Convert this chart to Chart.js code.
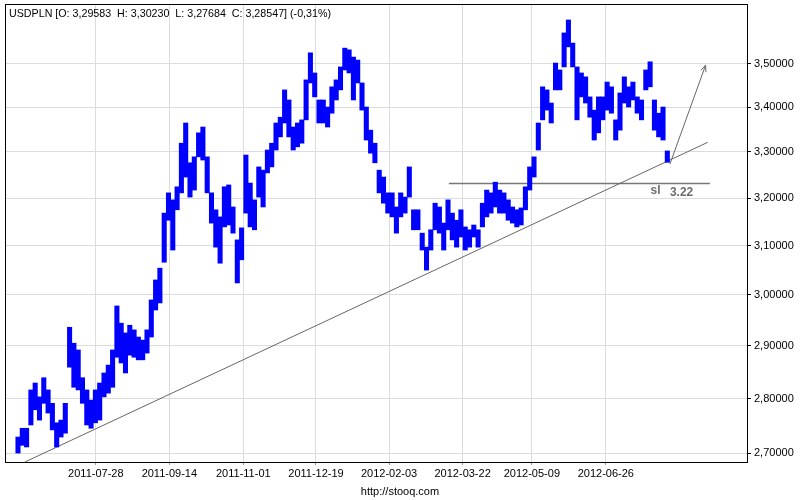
<!DOCTYPE html>
<html>
<head>
<meta charset="utf-8">
<script src="https://cdn.jsdelivr.net/npm/chart.js@4.4.1/dist/chart.umd.min.js"></script>
<style>
  html, body { margin: 0; padding: 0; background: #fff; }
  canvas { display: block; }
</style>
</head>
<body>
<canvas id="chart" width="800" height="500"></canvas>
<script>
// USDPLN, one bar = two sessions
const barHigh = [
  2.729, 2.745, 2.745, 2.816, 2.829, 2.803, 2.839, 2.816, 2.791, 2.755,
  2.760, 2.791, 2.936, 2.905, 2.892, 2.839, 2.816, 2.797, 2.816, 2.829,
  2.848, 2.863, 2.892, 2.978, 2.944, 2.925, 2.940, 2.931, 2.917, 2.911,
  2.931, 2.990, 3.030, 3.054, 3.168, 3.211, 3.196, 3.224, 3.319, 3.364,
  3.276, 3.289, 3.342, 3.355, 3.289, 3.211, 3.175, 3.160, 3.224, 3.228,
  3.181, 3.112, 3.137, 3.293, 3.232, 3.196, 3.267, 3.260, 3.304, 3.319,
  3.364, 3.377, 3.439, 3.416, 3.355, 3.364, 3.371, 3.462, 3.525, 3.478,
  3.416, 3.416, 3.400, 3.446, 3.462, 3.492, 3.536, 3.532, 3.515, 3.508,
  3.455, 3.400, 3.348, 3.319, 3.260, 3.245, 3.211, 3.211, 3.181, 3.211,
  3.202, 3.267, 3.175, 3.175, 3.126, 3.097, 3.133, 3.189, 3.181, 3.147,
  3.196, 3.168, 3.153, 3.175, 3.139, 3.133, 3.143, 3.133, 3.189, 3.217,
  3.211, 3.234, 3.217, 3.211, 3.196, 3.181, 3.175, 3.179, 3.224, 3.267,
  3.289, 3.364, 3.446, 3.439, 3.409, 3.501, 3.485, 3.572, 3.603, 3.548,
  3.492, 3.478, 3.469, 3.423, 3.393, 3.423, 3.423, 3.457, 3.446, 3.371,
  3.432, 3.469, 3.446, 3.457, 3.423, 3.416, 3.485, 3.504, 3.416, 3.386,
  3.400, 3.302
];
const barLow = [
  2.700, 2.714, 2.711, 2.751, 2.779, 2.760, 2.791, 2.773, 2.742, 2.711,
  2.729, 2.736, 2.859, 2.821, 2.816, 2.791, 2.751, 2.745, 2.755, 2.760,
  2.803, 2.810, 2.821, 2.878, 2.867, 2.848, 2.882, 2.878, 2.873, 2.873,
  2.886, 2.917, 2.970, 2.984, 3.066, 3.153, 3.091, 3.175, 3.211, 3.245,
  3.202, 3.217, 3.289, 3.282, 3.211, 3.147, 3.097, 3.064, 3.139, 3.143,
  3.126, 3.024, 3.071, 3.168, 3.139, 3.133, 3.202, 3.181, 3.254, 3.267,
  3.304, 3.333, 3.364, 3.333, 3.304, 3.311, 3.319, 3.371, 3.455, 3.423,
  3.364, 3.364, 3.355, 3.386, 3.416, 3.439, 3.485, 3.478, 3.416, 3.455,
  3.393, 3.326, 3.297, 3.276, 3.211, 3.189, 3.168, 3.160, 3.126, 3.160,
  3.168, 3.202, 3.133, 3.133, 3.091, 3.050, 3.091, 3.133, 3.126, 3.091,
  3.133, 3.112, 3.097, 3.118, 3.091, 3.097, 3.118, 3.097, 3.139, 3.160,
  3.168, 3.181, 3.168, 3.168, 3.153, 3.147, 3.139, 3.143, 3.175, 3.217,
  3.245, 3.304, 3.371, 3.393, 3.364, 3.439, 3.439, 3.492, 3.539, 3.492,
  3.371, 3.423, 3.409, 3.377, 3.326, 3.342, 3.371, 3.393, 3.386, 3.326,
  3.348, 3.409, 3.400, 3.416, 3.386, 3.371, 3.439, 3.446, 3.348, 3.333,
  3.326, 3.277
];

const xTickBars = [18.1, 35.2, 52.4, 69.3, 86.3, 103.4, 119.5, 136.7];
const xTickLabels = ["2011-07-28", "2011-09-14", "2011-11-01", "2011-12-19",
                     "2012-02-03", "2012-03-22", "2012-05-09", "2012-06-26"];
const yTicks = [2.7, 2.8, 2.9, 3.0, 3.1, 3.2, 3.3, 3.4, 3.5];

// drawn lines (bar position, price)
const trendX = [1.6, 160.4];
const trendY = [2.684, 3.321];
const slX = [100.2, 160.9];
const slY = [3.231, 3.231];
const arrowX = [151.6, 159.9];
const arrowY = [3.273, 3.496];

const header = "USDPLN [O: 3,29583  H: 3,30230  L: 3,27684  C: 3,28547] (-0,31%)";
const footer = "http://stooq.com";
const slText = "sl";
const slValueText = "3.22";

const font = "Liberation Sans";
const pairs = (xs, ys) => xs.map((v, i) => ({ x: v, y: ys[i] }));

const overlay = {
    id: "overlay",
    afterDatasetsDraw(chart) {
        const { ctx, scales: { x, y } } = chart;
        ctx.save();
        // arrow head
        const pts = chart.getDatasetMeta(3).data;
        const p0 = pts[0], p1 = pts[1];
        const ang = Math.atan2(p1.y - p0.y, p1.x - p0.x);
        ctx.strokeStyle = "#666";
        ctx.lineWidth = 1;
        ctx.beginPath();
        [-0.4, 0.4].forEach(d => {
            ctx.moveTo(p1.x, p1.y);
            ctx.lineTo(p1.x - 7 * Math.cos(ang + d), p1.y - 7 * Math.sin(ang + d));
        });
        ctx.stroke();
        // sl label
        ctx.fillStyle = "#6e6e6e";
        ctx.font = "bold 12px '" + font + "'";
        ctx.textBaseline = "middle";
        ctx.textAlign = "left";
        const ly = y.getPixelForValue(slY[0]);
        ctx.fillText(slText, x.getPixelForValue(147.1), ly + 7);
        ctx.fillText(slValueText, x.getPixelForValue(151.6), ly + 9);
        ctx.restore();
    },
    afterDraw(chart) {
        const { ctx, chartArea: a } = chart;
        ctx.save();
        ctx.strokeStyle = "#000";
        ctx.lineWidth = 1;
        ctx.strokeRect(Math.round(a.left) + 0.5, Math.round(a.top) + 0.5,
            Math.round(a.right - a.left), Math.round(a.bottom - a.top));
        ctx.fillStyle = "#000";
        ctx.font = "10.7px '" + font + "'";
        ctx.textBaseline = "middle";
        ctx.textAlign = "left";
        ctx.fillText(header, a.left + 4, a.top + 10);
        ctx.font = "11px '" + font + "'";
        ctx.textAlign = "center";
        ctx.fillText(footer, chart.width / 2, 492);
        ctx.restore();
    }
};

new Chart(document.getElementById("chart"), {
    type: "bar",
    data: {
        datasets: [{
            type: "bar",
            data: barHigh.map((h, i) => ({ x: i, y: [barLow[i], h] })),
            backgroundColor: "#0000ff",
            borderWidth: 0,
            barThickness: 4.4
        }, {
            type: "line",
            data: pairs(trendX, trendY),
            borderColor: "#666",
            borderWidth: 1,
            pointRadius: 0,
            clip: false
        }, {
            type: "line",
            data: pairs(slX, slY),
            borderColor: "#777",
            borderWidth: 1.5,
            pointRadius: 0
        }, {
            type: "line",
            data: pairs(arrowX, arrowY),
            borderColor: "#666",
            borderWidth: 1,
            pointRadius: 0
        }]
    },
    options: {
        responsive: false,
        animation: false,
        layout: { padding: { left: 5, top: 4, right: 0, bottom: 0 } },
        plugins: { legend: { display: false }, tooltip: { enabled: false } },
        scales: {
            x: {
                type: "linear",
                min: -3.02,
                max: 169.53,
                bounds: "data",
                offset: false,
                afterBuildTicks: s => { s.ticks = xTickBars.map(v => ({ value: v })); },
                afterFit: s => { s.height = 38; s.paddingLeft = 0; s.paddingRight = 0; },
                grid: { color: "#dcdcdc", tickColor: "#999", tickLength: 3, offset: false },
                border: { color: "#000" },
                ticks: {
                    color: "#000",
                    padding: 2,
                    maxRotation: 0,
                    autoSkip: false,
                    font: { family: font, size: 11 },
                    callback: (v, i) => xTickLabels[i]
                }
            },
            y: {
                type: "logarithmic",
                position: "right",
                min: 2.684,
                max: 3.6415,
                bounds: "data",
                afterBuildTicks: s => { s.ticks = yTicks.map(v => ({ value: v })); },
                afterFit: s => { s.width = 53; s.paddingTop = 0; s.paddingBottom = 0; },
                grid: { color: "#dcdcdc", tickColor: "#000", tickLength: 4 },
                border: { color: "#000" },
                ticks: {
                    color: "#000",
                    padding: 3,
                    autoSkip: false,
                    font: { family: font, size: 11 },
                    callback: v => v.toFixed(5).replace(".", ",")
                }
            }
        }
    },
    plugins: [overlay]
});
</script>
</body>
</html>
